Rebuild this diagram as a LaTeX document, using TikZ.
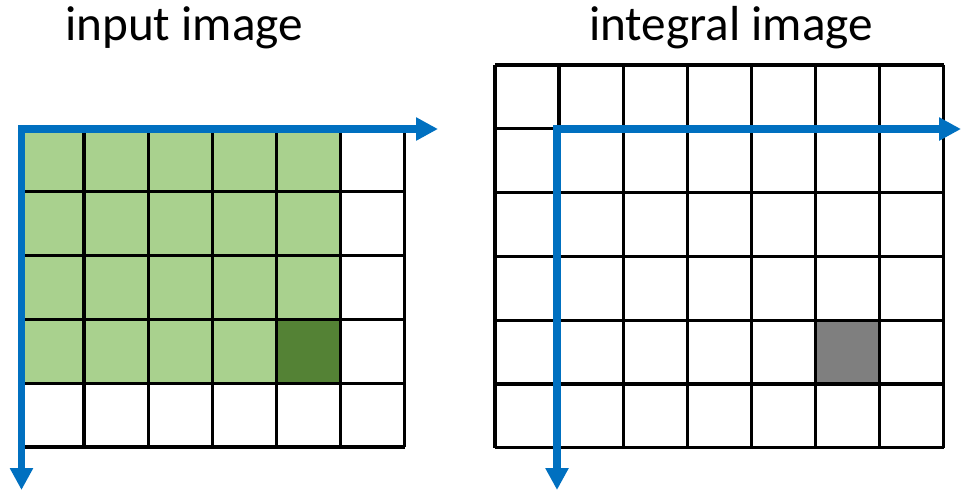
\documentclass[tikz,border=0pt]{standalone}
\usepackage{fontspec}
\setmainfont{Carlito}
\usetikzlibrary{arrows.meta}
\definecolor{axisblue}{HTML}{0070C0}
\definecolor{lightgreen}{HTML}{A9D18E}
\definecolor{darkgreen}{HTML}{548235}
\definecolor{cellgray}{HTML}{7F7F7F}
\tikzset{
  gridline/.style={draw=black, line width=1.9pt},
  axis/.style={draw=axisblue, line width=4pt, line join=miter,
    {Triangle[length=12.5pt, width=12.5pt]}-{Triangle[length=12.5pt, width=12.5pt]}},
  title/.style={font=\fontsize{28}{30}\selectfont, anchor=base, inner sep=0pt}
}
\def\cw{64.1}
\def\ch{63.8}
\begin{document}
\begin{tikzpicture}[x=0.02cm, y=-0.02cm]
    \useasboundingbox (0,0) rectangle (962,491);

    % --- input image ---
    \node[title] (intitle) at (184,40) {input image};
    \fill[lightgreen] (20,128) rectangle ++(5*\cw,4*\ch);
    \fill[darkgreen] (20+4*\cw,128+3*\ch) rectangle ++(\cw,\ch);
    \foreach \i in {0,...,6}
        \draw[gridline] (20+\i*\cw,128) -- ++(0,5*\ch);
    \foreach \j in {0,...,5}
        \draw[gridline] (20,128+\j*\ch) -- ++(6*\cw,0);
    \coordinate (incorner) at (21.5,129);
    \coordinate (inx) at (438,129);
    \coordinate (iny) at (21.5,490);
    \draw[axis] (inx) -- (incorner) -- (iny);

    % --- integral image ---
    \node[title] (inttitle) at (731,40) {integral image};
    \fill[cellgray] (495+5*\cw,65+4*\ch) rectangle ++(\cw,\ch);
    \foreach \i in {0,...,7}
        \draw[gridline] (495+\i*\cw,65) -- ++(0,6*\ch);
    \foreach \j in {0,...,6}
        \draw[gridline] (495,65+\j*\ch) -- ++(7*\cw,0);
    \coordinate (intcorner) at (557,129);
    \coordinate (intx) at (961,129);
    \coordinate (inty) at (557,490);
    \draw[axis] (intx) -- (intcorner) -- (inty);
\end{tikzpicture}
\end{document}
